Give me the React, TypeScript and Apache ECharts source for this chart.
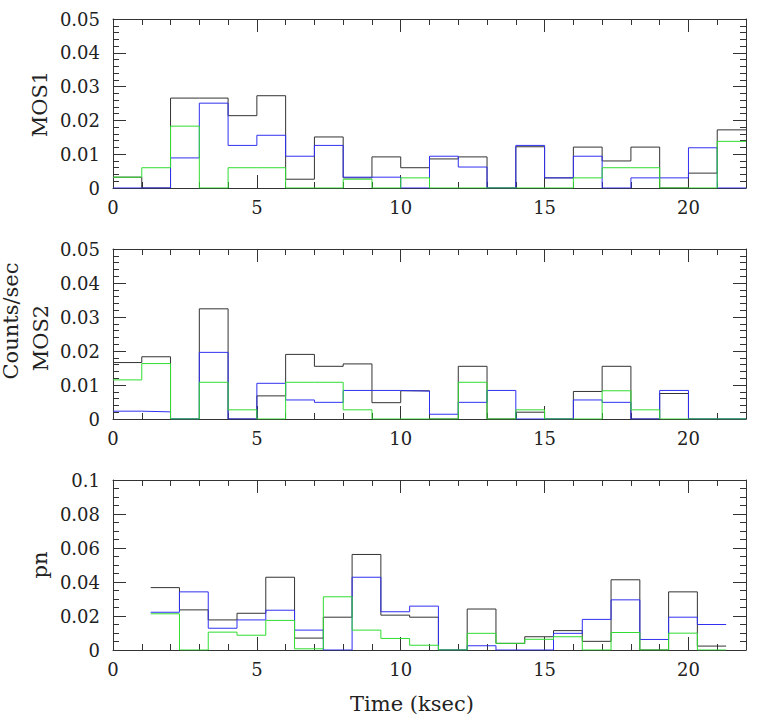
import React, { useEffect, useRef } from 'react';
import * as echarts from 'echarts';

// ---- data (count rates, counts/sec) ----
// MOS1: 1 ksec bins starting at 0 ksec
const mos1Start = 0;
const mos1Black = [0.0032, 0, 0.0266, 0.0266, 0.0214, 0.0273, 0.0026, 0.0151, 0.003, 0.0092, 0.006, 0.0086, 0.0092, 0, 0.0122, 0.003, 0.0121, 0.008, 0.0121, 0, 0.0044, 0.0172];
const mos1Blue = [0, 0, 0.0089, 0.0251, 0.0126, 0.0156, 0.0094, 0.0126, 0.0032, 0.0032, 0, 0.0094, 0.0062, 0, 0.0126, 0.003, 0.0094, 0, 0.003, 0.003, 0.0119, 0];
const mos1Green = [0.0032, 0.006, 0.0183, 0, 0.006, 0.006, 0, 0, 0.0026, 0, 0.003, 0, 0, 0, 0, 0, 0.003, 0.006, 0.006, 0, 0, 0.0138];

// MOS2: 1 ksec bins starting at 0 ksec
const mos2Start = 0;
const mos2Black = [0.0166, 0.0183, 0, 0.0324, 0, 0.0068, 0.019, 0.0155, 0.0162, 0.0048, 0.0083, 0, 0.0155, 0, 0.002, 0, 0.0081, 0.0155, 0, 0.0075, 0, 0];
const mos2Blue = [0.0023, 0.0021, 0, 0.0196, 0, 0.0105, 0.0056, 0.0049, 0.0084, 0.0084, 0.0082, 0.0014, 0.0049, 0.0084, 0, 0, 0.0056, 0.0049, 0, 0.0084, 0, 0];
const mos2Green = [0.0115, 0.0163, 0, 0.0108, 0.0027, 0, 0.0108, 0.0108, 0.0027, 0, 0, 0, 0.0108, 0, 0.0027, 0, 0, 0.0083, 0.0027, 0, 0, 0];

// pn: 1 ksec bins starting at 1.31 ksec
const pnStart = 1.31;
const pnBlack = [0.0367, 0.0236, 0.0177, 0.0216, 0.0428, 0.007, 0.0193, 0.0562, 0.0205, 0.0193, 0, 0.0241, 0.0039, 0.0078, 0.0114, 0.0051, 0.0413, 0, 0.0342, 0.0023];
const pnBlue = [0.0222, 0.0342, 0.0128, 0.0177, 0.0234, 0.0117, 0, 0.0428, 0.0225, 0.0258, 0, 0.0025, 0, 0, 0.0098, 0.018, 0.0295, 0.0062, 0.0193, 0.015];
const pnGreen = [0.0213, 0, 0.0105, 0.0087, 0.0174, 0.0007, 0.0313, 0.0117, 0.0068, 0.0028, 0, 0.0098, 0.0039, 0.0063, 0.0078, 0, 0.0103, 0, 0.0099, 0];

const panelNames = ['MOS1', 'MOS2', 'pn'];
const yMaxes = [0.05, 0.05, 0.1];
const yMajor = [0.01, 0.01, 0.02];
const yMinor = [0.002, 0.002, 0.005];
const xMin = 0;
const xMax = 22;
const xMajor = 5;
const xMinor = 1;
const yTitle = 'Counts/sec';
const xTitle = 'Time (ksec)';

const FONT = 'DejaVu Serif';
const AX = '#333';
const TXT = '#222';
const C_BLACK = '#333333';
const C_BLUE = '#3030f0';
const C_GREEN = '#30dd30';

function steps(start: number, vals: number[]) {
  const pts: number[][] = [];
  vals.forEach((v, i) => {
    pts.push([start + i, v]);
    pts.push([start + i + 1, v]);
  });
  return pts;
}

const grids = [
  { left: 113, top: 19, width: 633, height: 169 },
  { left: 113, top: 249, width: 633, height: 170 },
  { left: 113, top: 480, width: 633, height: 170 },
];

function xAxesFor(g: number) {
  const base: any = {
    type: 'value', gridIndex: g, min: xMin, max: xMax,
    splitLine: { show: false }, minorTick: { show: false },
  };
  const line = { show: true, onZero: false, lineStyle: { color: AX, width: 1 } };
  const noLine = { show: false, onZero: false };
  return [
    {
      ...base, position: 'bottom', interval: xMajor, axisLine: line,
      axisTick: { show: true, inside: true, length: 13, lineStyle: { color: AX, width: 1 } },
      axisLabel: {
        show: true, margin: 10, fontFamily: FONT, fontSize: 18, color: TXT,
        formatter: (v: number) => (v > 21 ? '' : String(v)),
      },
    },
    {
      ...base, position: 'bottom', interval: xMinor, axisLine: noLine,
      axisTick: { show: true, inside: true, length: 6, lineStyle: { color: AX, width: 1 } },
      axisLabel: { show: false },
    },
    {
      ...base, position: 'top', interval: xMajor, axisLine: line,
      axisTick: { show: true, inside: true, length: 13, lineStyle: { color: AX, width: 1 } },
      axisLabel: { show: false },
    },
    {
      ...base, position: 'top', interval: xMinor, axisLine: noLine,
      axisTick: { show: true, inside: true, length: 6, lineStyle: { color: AX, width: 1 } },
      axisLabel: { show: false },
    },
  ];
}

function yAxesFor(g: number) {
  const base: any = {
    type: 'value', gridIndex: g, min: 0, max: yMaxes[g],
    splitLine: { show: false }, minorTick: { show: false },
  };
  const line = { show: true, onZero: false, lineStyle: { color: AX, width: 1 } };
  const noLine = { show: false, onZero: false };
  return [
    {
      ...base, position: 'left', interval: yMajor[g], axisLine: line,
      axisTick: { show: true, inside: true, length: 13, lineStyle: { color: AX, width: 1 } },
      axisLabel: {
        show: true, margin: 13, fontFamily: FONT, fontSize: 18, color: TXT,
        formatter: (v: number) => (v === 0 ? '0' : String(+v.toFixed(3))),
      },
    },
    {
      ...base, position: 'left', interval: yMinor[g], axisLine: noLine,
      axisTick: { show: true, inside: true, length: 6, lineStyle: { color: AX, width: 1 } },
      axisLabel: { show: false },
    },
    {
      ...base, position: 'right', interval: yMajor[g], axisLine: line,
      axisTick: { show: true, inside: true, length: 13, lineStyle: { color: AX, width: 1 } },
      axisLabel: { show: false },
    },
    {
      ...base, position: 'right', interval: yMinor[g], axisLine: noLine,
      axisTick: { show: true, inside: true, length: 6, lineStyle: { color: AX, width: 1 } },
      axisLabel: { show: false },
    },
  ];
}

const panels = [
  { start: mos1Start, black: mos1Black, blue: mos1Blue, green: mos1Green },
  { start: mos2Start, black: mos2Black, blue: mos2Blue, green: mos2Green },
  { start: pnStart, black: pnBlack, blue: pnBlue, green: pnGreen },
];

export default function App() {
  const ref = useRef<HTMLDivElement>(null);
  useEffect(() => {
    if (!ref.current) return;
    const chart = echarts.init(ref.current, undefined, { renderer: 'svg' });
    const xAxis: any[] = [];
    const yAxis: any[] = [];
    const series: any[] = [];
    panels.forEach((p, g) => {
      xAxis.push(...xAxesFor(g));
      yAxis.push(...yAxesFor(g));
      const mk = (name: string, vals: number[], color: string, z: number) => ({
        type: 'line', name, xAxisIndex: g * 4, yAxisIndex: g * 4,
        data: steps(p.start, vals), showSymbol: false, symbol: 'none',
        lineStyle: { color, width: 1 }, itemStyle: { color }, z, silent: true,
        clip: true,
      });
      series.push(mk(panelNames[g] + ' total', p.black, C_BLACK, 2));
      series.push(mk(panelNames[g] + ' hard', p.blue, C_BLUE, 3));
      series.push(mk(panelNames[g] + ' soft', p.green, C_GREEN, 4));
    });
    const titleStyle = (text: string) => ({
      text, fontFamily: FONT, fontSize: 21, fill: TXT,
      align: 'center', verticalAlign: 'middle',
      textAlign: 'center', textVerticalAlign: 'middle',
    });
    chart.setOption({
      animation: false,
      backgroundColor: '#ffffff',
      grid: grids.map((gr) => ({ ...gr, containLabel: false, outerBoundsMode: 'none' })),
      xAxis,
      yAxis,
      series,
      graphic: [
        { type: 'text', x: 40, y: 104, rotation: Math.PI / 2, style: titleStyle(panelNames[0]) },
        { type: 'text', x: 41, y: 338, rotation: Math.PI / 2, style: titleStyle(panelNames[1]) },
        { type: 'text', x: 40, y: 565, rotation: Math.PI / 2, style: titleStyle(panelNames[2]) },
        { type: 'text', x: 11, y: 321, rotation: Math.PI / 2, style: titleStyle(yTitle) },
        { type: 'text', x: 412, y: 704, style: titleStyle(xTitle) },
      ],
    });
    return () => chart.dispose();
  }, []);
  return (
    <div
      ref={ref}
      style={{ position: 'absolute', left: 0, top: 0, width: 757, height: 722, background: '#fff' }}
    />
  );
}
